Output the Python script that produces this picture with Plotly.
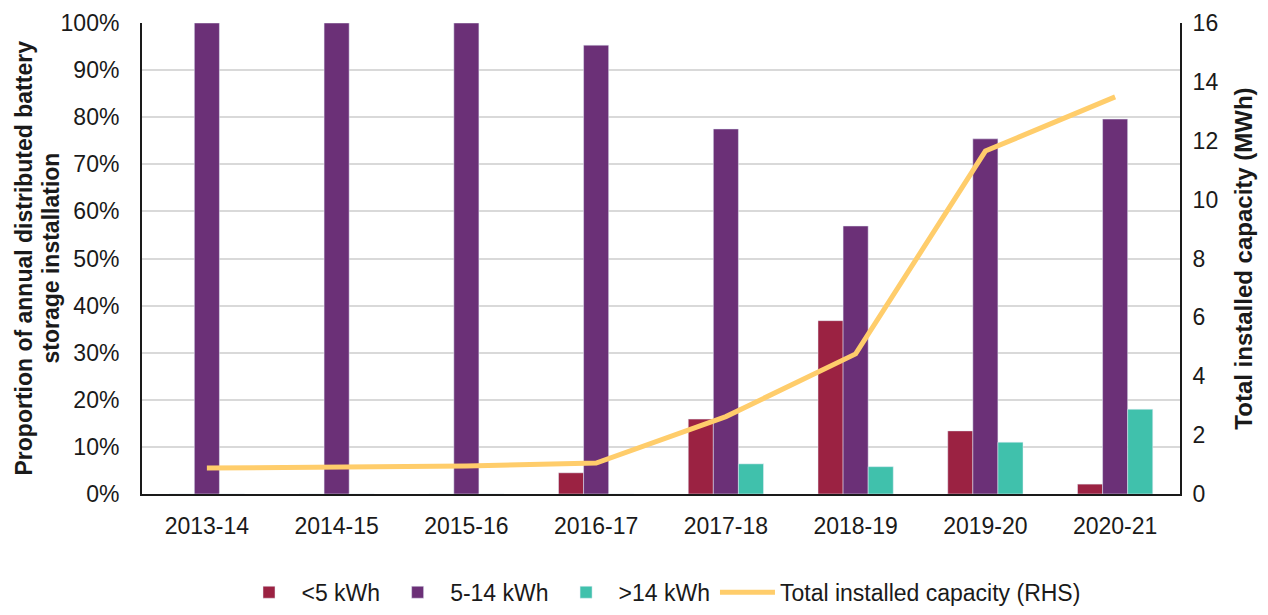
import plotly.graph_objects as go

years = ["2013-14", "2014-15", "2015-16", "2016-17", "2017-18", "2018-19", "2019-20", "2020-21"]
lt5 = [0, 0, 0, 0.045, 0.159, 0.368, 0.134, 0.021]
mid = [1.0, 1.0, 1.0, 0.953, 0.775, 0.569, 0.754, 0.796]
gt14 = [0, 0, 0, 0, 0.064, 0.058, 0.110, 0.180]
total_cap = [0.88, 0.92, 0.95, 1.05, 2.63, 4.76, 11.65, 13.49]
left_title = ["Proportion of annual distributed battery", "storage installation"]

FONT = "Liberation Sans, Arial, sans-serif"
INK = "#1a1a1a"

fig = go.Figure()
fig.add_trace(go.Bar(x=years, y=lt5, name="<5 kWh", marker_color="#9B2242"))
fig.add_trace(go.Bar(x=years, y=mid, name="5-14 kWh", marker_color="#6B3077"))
fig.add_trace(go.Bar(x=years, y=gt14, name=">14 kWh", marker_color="#40C1AC"))
fig.add_trace(go.Scatter(x=years, y=total_cap, name="Total installed capacity (RHS)",
                         mode="lines", line=dict(color="#FFCD6B", width=5), yaxis="y2"))

for txt, shift in zip(left_title, [-119, -92]):
    fig.add_annotation(text="<b>" + txt + "</b>", xref="paper", yref="paper", x=0, y=0.5,
                       xanchor="center", yanchor="middle", xshift=shift, textangle=-90,
                       showarrow=False, borderpad=0, font=dict(size=23, color=INK))

fig.update_layout(
    width=1252, height=599,
    margin=dict(l=134, r=80, t=15, b=113, autoexpand=False),
    plot_bgcolor="white", paper_bgcolor="white",
    font=dict(family=FONT, size=23, color=INK),
    barmode="group", bargap=0.42, bargroupgap=0,
    xaxis=dict(showline=True, linecolor=INK, linewidth=2, tickfont=dict(size=23),
               automargin=False, ticks="outside", ticklen=10, tickcolor="rgba(0,0,0,0)"),
    yaxis=dict(range=[0, 1], tickformat=".0%", dtick=0.1, showgrid=True,
               gridcolor="#D9D9D9", gridwidth=2, showline=True, linecolor=INK,
               linewidth=2, zeroline=False, tickfont=dict(size=23), automargin=False,
               ticks="outside", ticklen=16, tickcolor="rgba(0,0,0,0)"),
    yaxis2=dict(range=[0, 16], dtick=2, overlaying="y", side="right", showgrid=False,
                showline=True, linecolor=INK, linewidth=2, zeroline=False,
                tickfont=dict(size=23), automargin=False,
                ticks="outside", ticklen=6, tickcolor="rgba(0,0,0,0)",
                title=dict(text="<b>Total installed capacity (MWh)</b>", font=dict(size=24), standoff=18)),
    legend=dict(orientation="h", x=0.5, xanchor="center", y=-0.163, yanchor="top",
                font=dict(size=23), traceorder="normal", itemwidth=55),
)

fig.write_html("out.html")
